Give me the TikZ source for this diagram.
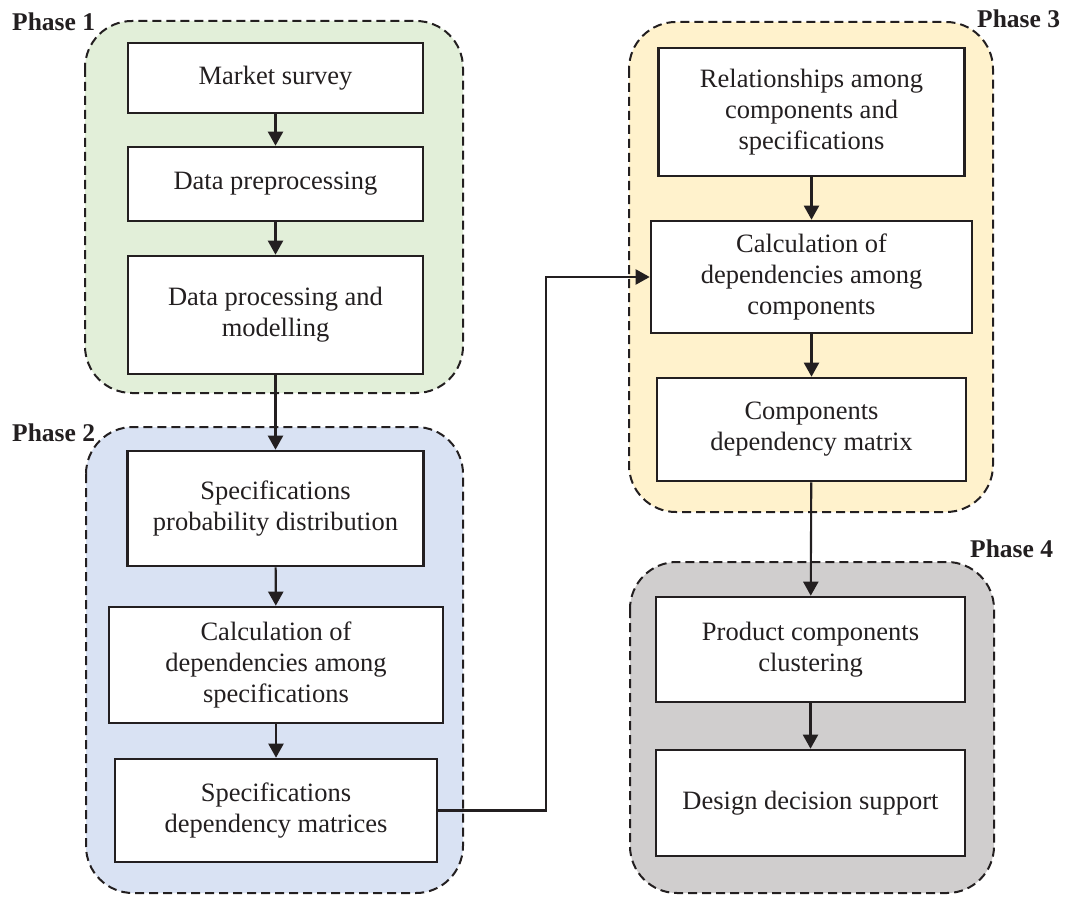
\documentclass[tikz,border=0pt]{standalone}
\usepackage{fontspec}
\setmainfont{Liberation Serif}
\usetikzlibrary{arrows.meta}
\definecolor{pgreen}{HTML}{E2EFD9}
\definecolor{pblue}{HTML}{D9E2F3}
\definecolor{pyellow}{HTML}{FFF2CC}
\definecolor{pgray}{HTML}{D0CECE}
\definecolor{ink}{HTML}{231F20}
\tikzset{
  phasebox/.style={draw=ink, line width=2pt, dash pattern=on 9pt off 5pt, rounded corners=47pt},
  stepbox/.style={draw=ink, fill=white, line width=2.6pt, align=center, inner sep=0pt,
    font=\fontsize{26.5}{31}\selectfont, text=ink},
  phaselabel/.style={font=\fontsize{25.5}{30}\selectfont\bfseries, text=ink, inner sep=0pt},
  flow/.style={draw=ink, line width=2.1pt, -{Triangle[length=14pt,width=15pt]}}
}
\begin{document}
\begin{tikzpicture}[x=1pt,y=-1pt]
\useasboundingbox (0,0) rectangle (1083,896);
% containers
\path[phasebox, fill=pgreen] (85,21) rectangle (463,393);
\path[phasebox, fill=pblue] (86,427) rectangle (463,893);
\path[phasebox, fill=pyellow] (629,22) rectangle (993,512);
\path[phasebox, fill=pgray] (630,562) rectangle (994,893);
% labels
\node[phaselabel, anchor=base west] (l1) at (12,31) {Phase 1};
\node[phaselabel, anchor=base west] (l2) at (12,441) {Phase 2};
\node[phaselabel, anchor=base west] (l3) at (977,28) {Phase 3};
\node[phaselabel, anchor=base west] (l4) at (970,557) {Phase 4};
% phase 1
\node[stepbox, minimum width=295pt, minimum height=70pt] (ms) at (275.5,78) {Market survey};
\node[stepbox, minimum width=295pt, minimum height=74pt] (dp) at (275.5,184) {Data preprocessing};
\node[stepbox, minimum width=295pt, minimum height=118pt] (dpm) at (275.5,315) {Data processing and\\modelling};
% phase 2
\node[stepbox, minimum width=296pt, minimum height=115pt] (spd) at (275.5,508.5) {Specifications\\probability distribution};
\node[stepbox, minimum width=334pt, minimum height=116pt] (cds) at (276,665) {Calculation of\\dependencies among\\specifications};
\node[stepbox, minimum width=322pt, minimum height=103pt] (sdm) at (276,810.5) {Specifications\\dependency matrices};
% phase 3
\node[stepbox, minimum width=306pt, minimum height=128pt] (rel) at (811.5,112) {Relationships among\\components and\\specifications};
\node[stepbox, minimum width=321pt, minimum height=112pt] (cdc) at (811.5,277) {Calculation of\\dependencies among\\components};
\node[stepbox, minimum width=309pt, minimum height=103pt] (cdm) at (811.5,429.5) {Components\\dependency matrix};
% phase 4
\node[stepbox, minimum width=309pt, minimum height=105pt] (pcc) at (810.5,649.5) {Product components\\clustering};
\node[stepbox, minimum width=309pt, minimum height=106pt] (dds) at (810.5,803) {Design decision support};
% connectors
\draw[flow] (ms) -- (dp);
\draw[flow] (dp) -- (dpm);
\draw[flow] (dpm) -- (spd);
\draw[flow] (spd) -- (cds);
\draw[flow] (cds) -- (sdm);
\coordinate (turn) at (546,810.5);
\draw[flow] (sdm.east) -- (turn) |- (cdc.west);
\draw[flow] (rel) -- (cdc);
\draw[flow] (cdc) -- (cdm);
\draw[flow] (cdm) -- (pcc);
\draw[flow] (pcc) -- (dds);
\end{tikzpicture}
\end{document}
